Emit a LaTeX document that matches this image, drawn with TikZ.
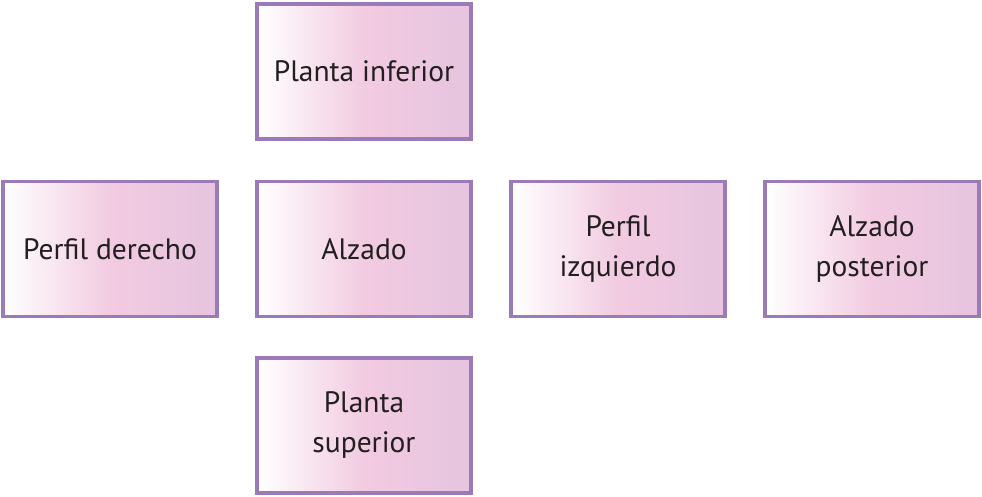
\documentclass[tikz,border=0pt]{standalone}
\usepackage{fontspec}
\setmainfont{PT Sans}
\definecolor{bordc}{HTML}{9A7BB8}
\definecolor{pinkc}{HTML}{F2CBE1}
\definecolor{purpc}{HTML}{E6C4DF}
\definecolor{txtc}{HTML}{231F20}
\begin{document}
\begin{tikzpicture}[x=1pt,y=-1pt,
  viewbox/.style={draw=bordc, line width=3.2pt, minimum width=214pt, minimum height=135pt,
    left color=white, right color=purpc, middle color=pinkc,
    align=center, text=txtc, inner sep=0pt,
    font=\fontsize{29.5}{40}\selectfont}]
\useasboundingbox (0,0) rectangle (982,497);
\node[viewbox] (inf) at (364,71.5) {Planta inferior};
\node[viewbox] (der) at (110,249) {Perfil derecho};
\node[viewbox] (alz) at (364,249) {Alzado};
\node[viewbox] (izq) at (618,249) {Perfil\\izquierdo};
\node[viewbox] (post) at (872,249) {Alzado\\posterior};
\node[viewbox] (sup) at (364,425.5) {Planta\\superior};
\end{tikzpicture}
\end{document}
